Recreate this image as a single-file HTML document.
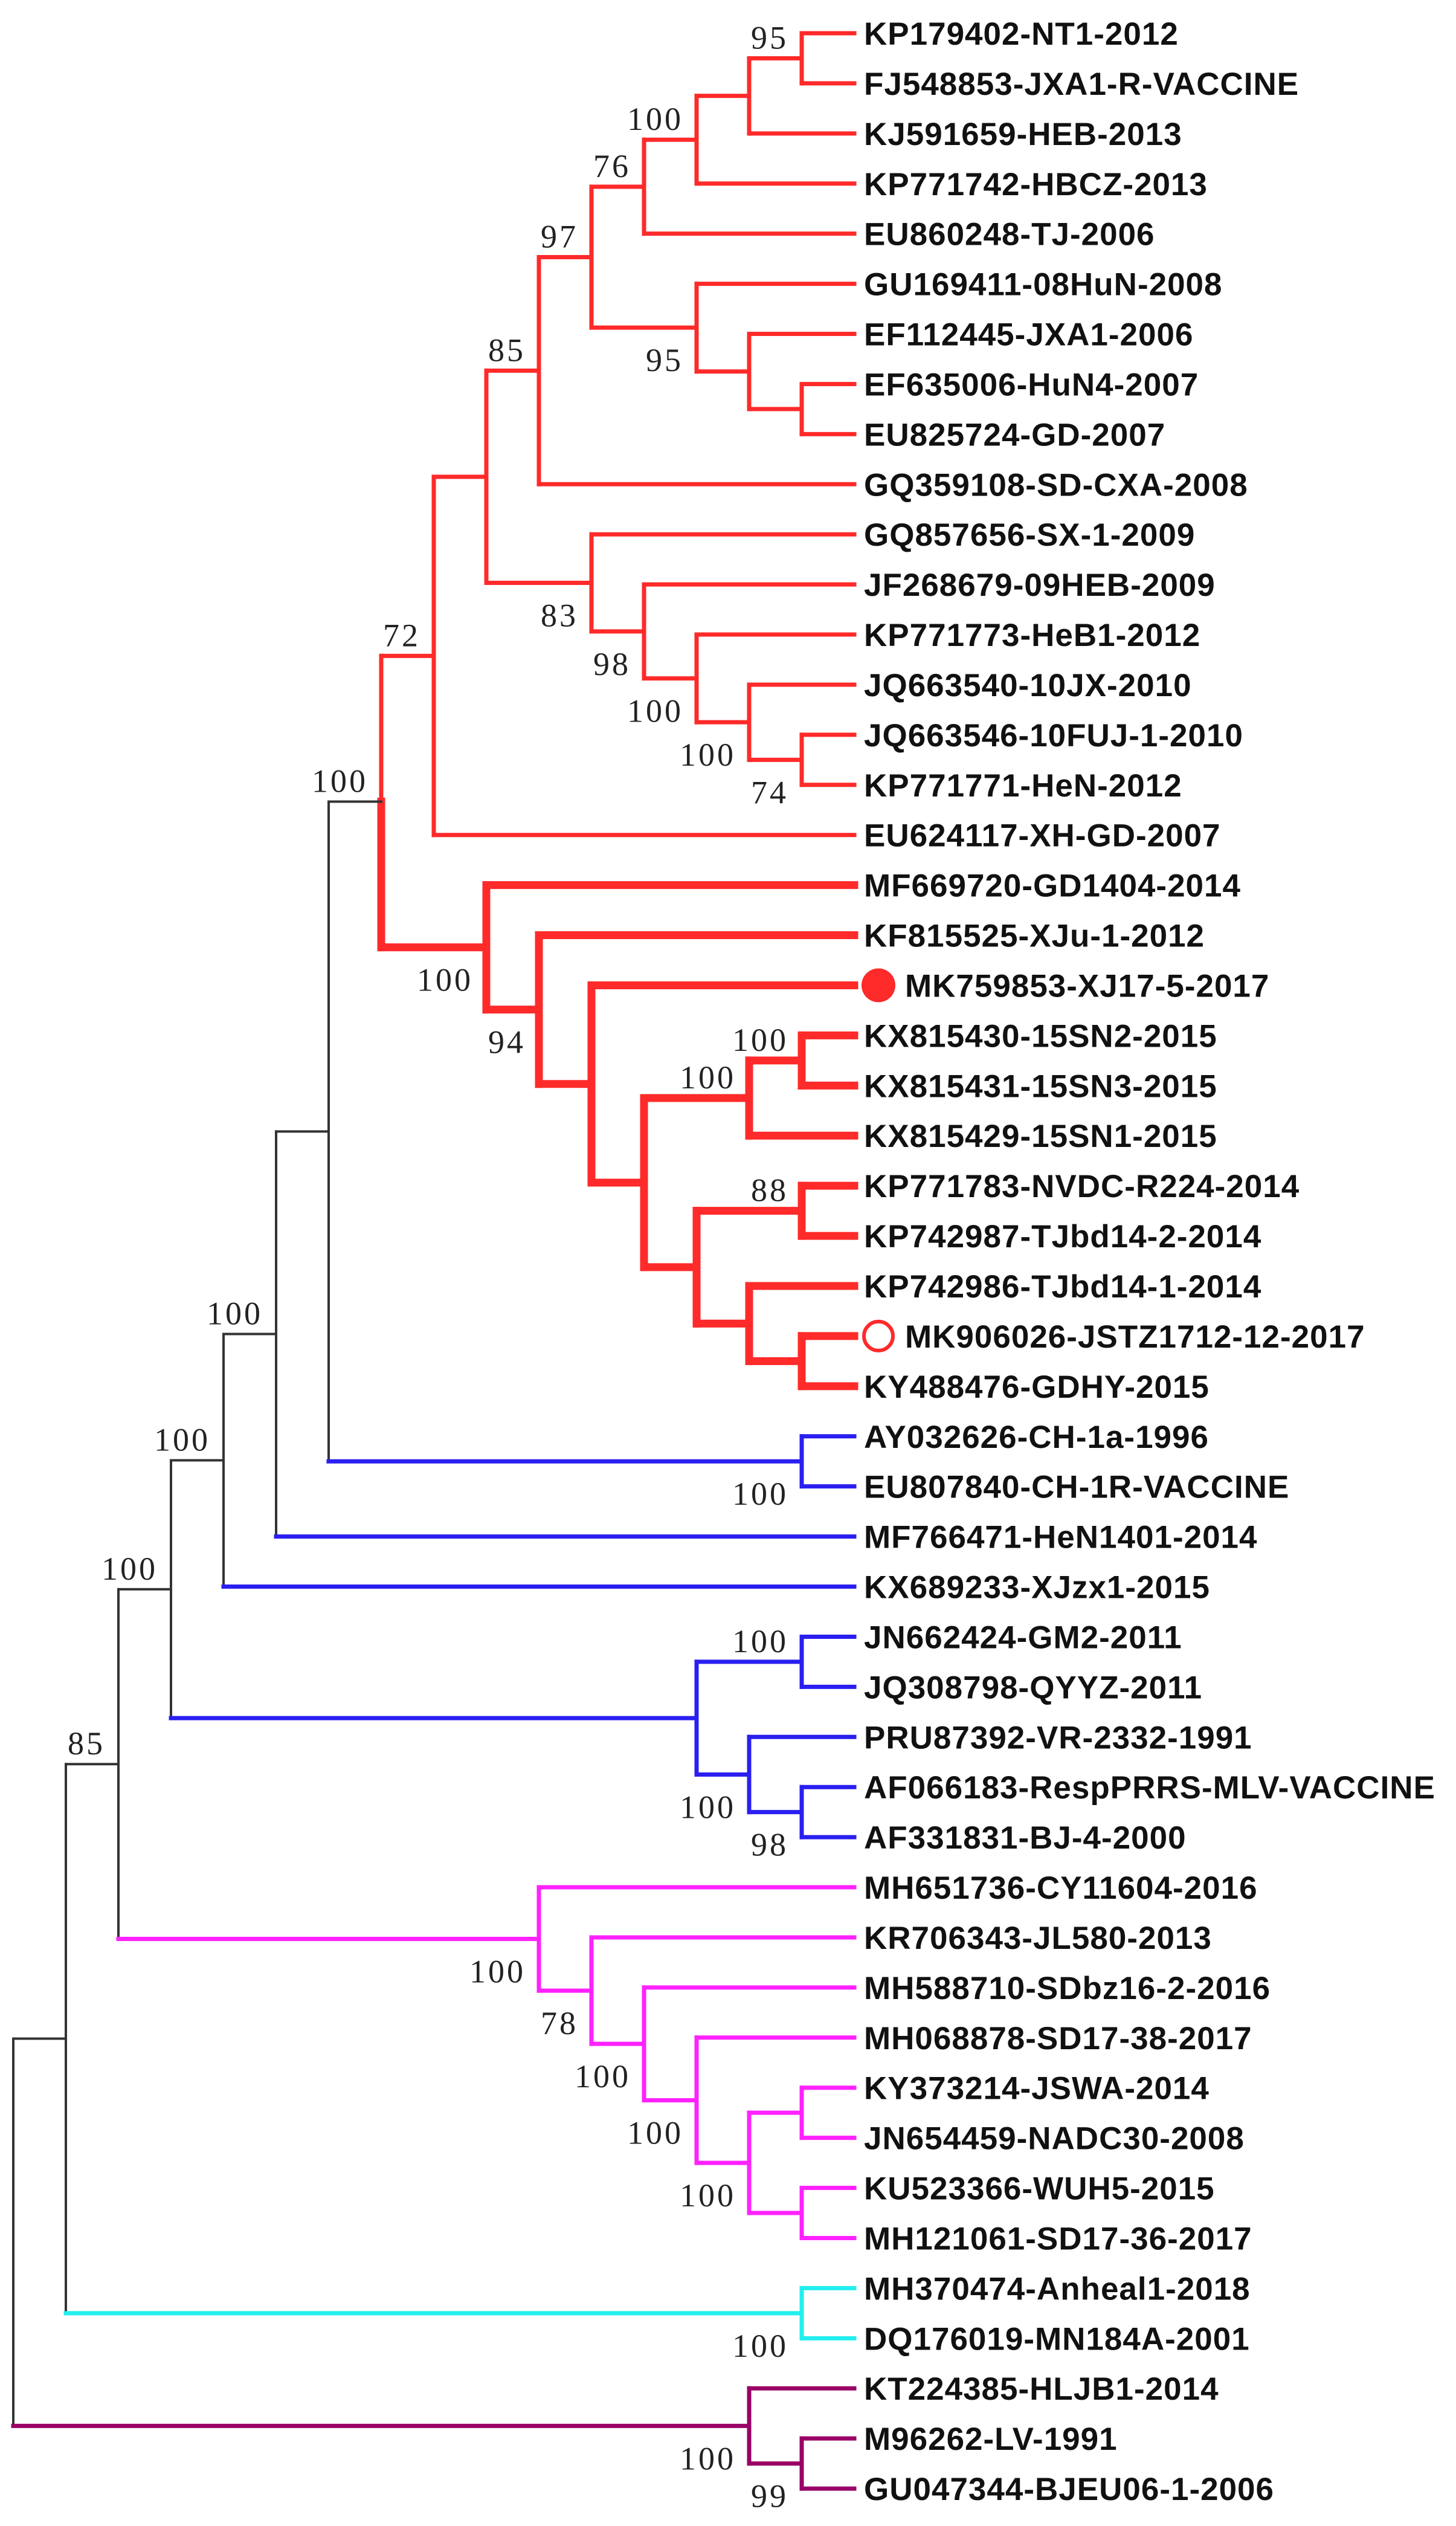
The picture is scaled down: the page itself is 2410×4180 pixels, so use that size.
<!DOCTYPE html>
<html><head><meta charset="utf-8"><style>
html,body{margin:0;padding:0;background:#fff;}
svg{display:block;}
.lf{font-family:"Liberation Sans",Arial,sans-serif;font-weight:bold;font-size:53px;letter-spacing:1px;fill:#111;}
.bs{font-family:"Liberation Serif","Times New Roman",serif;font-size:54px;letter-spacing:4px;fill:#222;}
</style></head>
<body>
<svg id="tree" width="2410" height="4180" viewBox="0 0 2410 4180" xmlns="http://www.w3.org/2000/svg"></svg>
<script>
const leafNames = ["KP179402-NT1-2012","FJ548853-JXA1-R-VACCINE","KJ591659-HEB-2013","KP771742-HBCZ-2013","EU860248-TJ-2006","GU169411-08HuN-2008","EF112445-JXA1-2006","EF635006-HuN4-2007","EU825724-GD-2007","GQ359108-SD-CXA-2008","GQ857656-SX-1-2009","JF268679-09HEB-2009","KP771773-HeB1-2012","JQ663540-10JX-2010","JQ663546-10FUJ-1-2010","KP771771-HeN-2012","EU624117-XH-GD-2007","MF669720-GD1404-2014","KF815525-XJu-1-2012","MK759853-XJ17-5-2017","KX815430-15SN2-2015","KX815431-15SN3-2015","KX815429-15SN1-2015","KP771783-NVDC-R224-2014","KP742987-TJbd14-2-2014","KP742986-TJbd14-1-2014","MK906026-JSTZ1712-12-2017","KY488476-GDHY-2015","AY032626-CH-1a-1996","EU807840-CH-1R-VACCINE","MF766471-HeN1401-2014","KX689233-XJzx1-2015","JN662424-GM2-2011","JQ308798-QYYZ-2011","PRU87392-VR-2332-1991","AF066183-RespPRRS-MLV-VACCINE","AF331831-BJ-4-2000","MH651736-CY11604-2016","KR706343-JL580-2013","MH588710-SDbz16-2-2016","MH068878-SD17-38-2017","KY373214-JSWA-2014","JN654459-NADC30-2008","KU523366-WUH5-2015","MH121061-SD17-36-2017","MH370474-Anheal1-2018","DQ176019-MN184A-2001","KT224385-HLJB1-2014","M96262-LV-1991","GU047344-BJEU06-1-2006"];
const leafGroup = ["r","r","r","r","r","r","r","r","r","r","r","r","r","r","r","r","r","t","t","t","t","t","t","t","t","t","t","t","b","b","b","b","b","b","b","b","b","m","m","m","m","m","m","m","m","c","c","p","p","p"];
const markers = {19:"filled",26:"open"};
// nodes: [id, level, children, bootstrap, labelPos, group(vertical), stemGroup]
const nodes = [
["A",1,[0,1],"95","a","r","r"],["B",2,["A",2],"","a","r","r"],["C",3,["B",3],"100","a","r","r"],["D",4,["C",4],"76","a","r","r"],
["E",1,[7,8],"","a","r","r"],["F",2,[6,"E"],"","a","r","r"],["G",3,[5,"F"],"95","b","r","r"],["H",5,["D","G"],"97","a","r","r"],["I",6,["H",9],"85","a","r","r"],
["J",1,[14,15],"74","b","r","r"],["K",2,[13,"J"],"100","b","r","r"],["L",3,[12,"K"],"100","b","r","r"],["M",4,[11,"L"],"98","b","r","r"],["N",5,[10,"M"],"83","b","r","r"],
["O",7,["I","N"],"","a","r","r"],["P",8,["O",16],"72","a","r","r"],
["T1",1,[20,21],"100","a","t","t"],["T2",2,["T1",22],"100","a","t","t"],["T3",1,[23,24],"88","a","t","t"],["T4",1,[26,27],"","a","t","t"],["T5",2,[25,"T4"],"","a","t","t"],["T6",3,["T3","T5"],"","a","t","t"],["T7",4,["T2","T6"],"","a","t","t"],["T8",5,[19,"T7"],"","a","t","t"],["T9",6,[18,"T8"],"94","b","t","t"],["T10",7,[17,"T9"],"100","b","t","t"],
["Q",9,["P","T10"],"100","a","split","k"],
["BL1",1,[28,29],"100","b","b","b"],["R10",10,["Q","BL1"],"","a","k","k"],["S11",11,["R10",30],"100","a","k","k"],["T12",12,["S11",31],"100","a","k","k"],
["U",1,[32,33],"100","a","b","b"],["V",1,[35,36],"98","b","b","b"],["W",2,[34,"V"],"100","b","b","b"],["X",3,["U","W"],"","a","b","b"],
["Y13",13,["T12","X"],"100","a","k","k"],
["m1",1,[41,42],"","a","m","m"],["m2",1,[43,44],"","a","m","m"],["m3",2,["m1","m2"],"100","b","m","m"],["m4",3,[40,"m3"],"100","b","m","m"],["m5",4,[39,"m4"],"100","b","m","m"],["m6",5,[38,"m5"],"78","b","m","m"],["m7",6,[37,"m6"],"100","b","m","m"],
["Z14",14,["Y13","m7"],"85","a","k","k"],["Cy",1,[45,46],"100","b","c","c"],["Z15",15,["Z14","Cy"],"","a","k","k"],
["Pu1",1,[48,49],"99","b","p","p"],["Pu2",2,[47,"Pu1"],"100","b","p","p"],["Root",16,["Z15","Pu2"],"","a","k","k"]
];
const STY = {r:["#ff2a2a",7],t:["#ff2a2a",13],b:["#2a1ff0",7],m:["#ff22ff",7],c:["#22eeee",7],p:["#990066",7],k:["#333333",4]};
const X0 = 1414, DX = 87, Y0 = 55, DY = 82.92;
const xOf = k => X0 - DX*k;
const yOf = i => Y0 + DY*i;
const svg = document.getElementById('tree');
const NS = "http://www.w3.org/2000/svg";
function line(x1,y1,x2,y2,g,name){
  const s = STY[g];
  const l = document.createElementNS(NS,'line');
  l.setAttribute('x1',x1);l.setAttribute('y1',y1);l.setAttribute('x2',x2);l.setAttribute('y2',y2);
  l.setAttribute('stroke',s[0]);l.setAttribute('stroke-width',s[1]);l.setAttribute('stroke-linecap','square');
  
  
  svg.appendChild(l);
}
const nmap = {}; nodes.forEach(n=>nmap[n[0]]=n);
const ypos = {};
function yNode(c){
  if(typeof c==='number') return yOf(c);
  if(ypos[c]!==undefined) return ypos[c];
  const n = nmap[c];
  const ys = n[2].map(yNode);
  ypos[c] = (Math.min(...ys)+Math.max(...ys))/2;
  return ypos[c];
}
nodes.forEach(n=>{
  const id=n[0], x=xOf(n[1]), y=yNode(id);
  n[2].forEach(c=>{
    const cy = yNode(c);
    let sg, cx;
    if(typeof c==='number'){ sg = leafGroup[c]; cx = X0; }
    else { sg = nmap[c][6]; cx = xOf(nmap[c][1]); }
    const vg = n[5]==='split' ? (typeof c==='number'? leafGroup[c] : nmap[c][5]==='split'?'r':nmap[c][5]) : n[5];
    line(x,y,x,cy,vg,'branch-vertical');
    line(x,cy,cx,cy,sg,'branch-stem');
  });
  if(n[3]){
    const t=document.createElementNS(NS,'text');
    t.setAttribute('class','bs');
    t.setAttribute('x',x-22);
    t.setAttribute('y', n[4]==='a' ? y-16 : y+72);
    t.setAttribute('text-anchor','end');
    t.textContent=n[3];
    
    
    svg.appendChild(t);
  }
});
leafNames.forEach((nm,i)=>{
  const y=yOf(i); let tx=1430;
  if(markers[i]){
    const c=document.createElementNS(NS,'circle');
    c.setAttribute('cx',1454);c.setAttribute('cy',y);c.setAttribute('r',markers[i]==='filled'?28:24);
    c.setAttribute('fill',markers[i]==='filled'?'#ff2a2a':'none');
    c.setAttribute('stroke','#ff2a2a');c.setAttribute('stroke-width',markers[i]==='filled'?0:6);
    
    
    svg.appendChild(c);
    tx=1498;
  }
  const t=document.createElementNS(NS,'text');
  t.setAttribute('class','lf');t.setAttribute('x',tx);t.setAttribute('y',y+19);
  t.textContent=nm;
  
  
  svg.appendChild(t);
});
</script>
</body></html>
